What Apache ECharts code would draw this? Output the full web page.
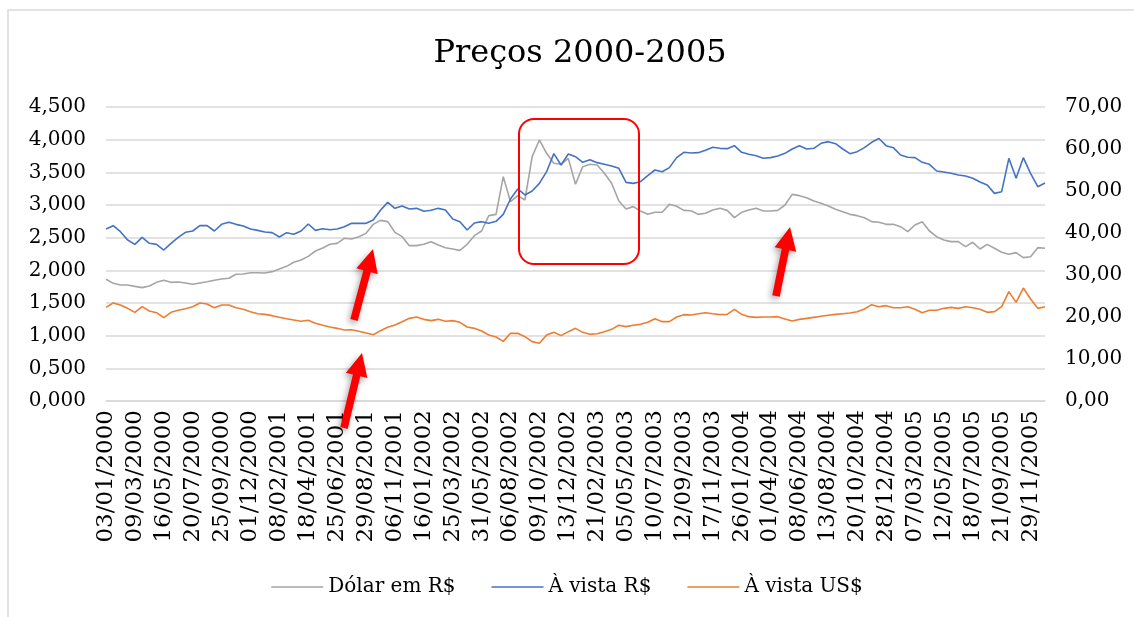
<!DOCTYPE html>
<html>
<head>
<meta charset="utf-8">
<title>Preços 2000-2005</title>
<script src="https://cdn.jsdelivr.net/npm/echarts@6/dist/echarts.min.js"></script>
<style>
    html, body { margin: 0; padding: 0; background: #fff; }
    #chart { width: 1134px; height: 617px; }
</style>
</head>
<body>
<div id="chart"></div>
<script>
// rótulos do eixo X (um a cada 4 pontos)
let dateLabels = ['03/01/2000', '09/03/2000', '16/05/2000', '20/07/2000', '25/09/2000', '01/12/2000',
    '08/02/2001', '18/04/2001', '25/06/2001', '29/08/2001', '06/11/2001', '16/01/2002', '25/03/2002',
    '31/05/2002', '06/08/2002', '09/10/2002', '13/12/2002', '21/02/2003', '05/05/2003', '10/07/2003',
    '12/09/2003', '17/11/2003', '26/01/2004', '01/04/2004', '08/06/2004', '13/08/2004', '20/10/2004',
    '28/12/2004', '07/03/2005', '12/05/2005', '18/07/2005', '21/09/2005', '29/11/2005'];
let step = 4;

// Dólar em R$ (eixo da esquerda)
let dolar = [
    1.863, 1.801, 1.776, 1.776, 1.755, 1.735, 1.760, 1.816, 1.847, 1.816,
    1.821, 1.806, 1.786, 1.806, 1.826, 1.847, 1.867, 1.878, 1.939, 1.944,
    1.964, 1.964, 1.959, 1.980, 2.020, 2.061, 2.123, 2.158, 2.214, 2.296,
    2.342, 2.398, 2.413, 2.490, 2.480, 2.515, 2.566, 2.704, 2.765, 2.745,
    2.582, 2.515, 2.378, 2.378, 2.398, 2.439, 2.388, 2.347, 2.327, 2.306,
    2.398, 2.531, 2.602, 2.837, 2.857, 3.434, 3.051, 3.143, 3.077, 3.740,
    3.995, 3.791, 3.638, 3.623, 3.714, 3.317, 3.587, 3.623, 3.612, 3.485,
    3.332, 3.061, 2.939, 2.975, 2.908, 2.857, 2.888, 2.888, 3.010, 2.980,
    2.918, 2.913, 2.857, 2.873, 2.924, 2.949, 2.918, 2.806, 2.888, 2.924,
    2.949, 2.908, 2.908, 2.918, 3.000, 3.163, 3.143, 3.112, 3.061, 3.026,
    2.985, 2.934, 2.898, 2.857, 2.837, 2.806, 2.745, 2.735, 2.704, 2.704,
    2.668, 2.592, 2.694, 2.745, 2.602, 2.515, 2.464, 2.439, 2.439, 2.362,
    2.429, 2.327, 2.398, 2.337, 2.276, 2.245, 2.271, 2.194, 2.209, 2.347,
    2.337
];

// À vista R$ (eixo da direita)
let vistaReal = [
    40.95, 41.75, 40.32, 38.33, 37.30, 38.97, 37.54, 37.30, 35.95, 37.54,
    38.97, 40.16, 40.48, 41.75, 41.75, 40.48, 42.06, 42.54, 42.06, 41.67,
    40.95, 40.63, 40.24, 40.08, 39.05, 40.08, 39.68, 40.48, 42.14, 40.63,
    41.03, 40.79, 40.95, 41.51, 42.30, 42.30, 42.30, 43.10, 45.40, 47.30,
    45.87, 46.43, 45.71, 45.87, 45.16, 45.40, 45.87, 45.48, 43.33, 42.70,
    40.71, 42.38, 42.70, 42.30, 42.78, 44.44, 48.10, 50.48, 49.05, 50.00,
    51.82, 54.60, 58.89, 56.19, 58.81, 58.17, 56.83, 57.46, 56.75, 56.35,
    55.95, 55.40, 52.06, 51.82, 52.22, 53.65, 55.00, 54.60, 55.56, 57.94,
    59.21, 59.05, 59.13, 59.68, 60.40, 60.16, 60.08, 60.79, 59.21, 58.73,
    58.41, 57.78, 57.94, 58.33, 58.97, 60.00, 60.79, 60.00, 60.16, 61.35,
    61.75, 61.27, 60.00, 58.89, 59.37, 60.32, 61.59, 62.50, 60.79, 60.32,
    58.57, 58.02, 57.94, 56.83, 56.35, 54.76, 54.52, 54.21, 53.81, 53.57,
    53.02, 52.14, 51.43, 49.44, 49.84, 57.78, 53.02, 57.94, 54.21, 51.03,
    51.90
];

// À vista US$ (eixo da direita)
let vistaDolar = [
    22.30, 23.33, 22.86, 22.06, 21.11, 22.46, 21.43, 21.03, 19.84, 21.11,
    21.59, 21.98, 22.46, 23.33, 23.10, 22.22, 22.86, 22.86, 22.22, 21.83,
    21.27, 20.79, 20.63, 20.32, 19.92, 19.60, 19.29, 18.97, 19.21, 18.49,
    18.02, 17.62, 17.30, 16.90, 16.98, 16.59, 16.19, 15.79, 16.75, 17.54,
    18.10, 18.89, 19.68, 20.00, 19.44, 19.13, 19.44, 18.97, 19.13, 18.73,
    17.62, 17.30, 16.67, 15.71, 15.24, 14.20, 16.11, 16.11, 15.32, 14.13,
    13.73, 15.71, 16.35, 15.56, 16.51, 17.30, 16.35, 15.87, 16.03, 16.51,
    17.06, 18.02, 17.70, 18.02, 18.25, 18.73, 19.60, 18.89, 18.89, 20.00,
    20.56, 20.48, 20.79, 21.03, 20.79, 20.56, 20.63, 21.83, 20.63, 20.08,
    19.92, 20.00, 20.00, 20.08, 19.52, 19.05, 19.44, 19.68, 19.92, 20.16,
    20.40, 20.63, 20.79, 20.95, 21.27, 21.90, 22.94, 22.46, 22.70, 22.22,
    22.22, 22.46, 21.83, 21.03, 21.59, 21.59, 22.06, 22.30, 22.06, 22.46,
    22.22, 21.83, 21.11, 21.27, 22.46, 26.03, 23.49, 26.90, 24.29, 22.06,
    22.46
];

// categorias: data no ponto rotulado, vazio nos intermediários
let categories = dolar.map((v, i) => (i % step === 0 ? dateLabels[i / step] : ''));

const fmt = (n, d) => n.toFixed(d).replace('.', ',');
const font = 'DejaVu Serif';

// seta vermelha (anotação)
const arrow = (tx, ty, px, py) => {
    let dx = px - tx, dy = py - ty;
    let len = Math.sqrt(dx * dx + dy * dy);
    let ux = dx / len, uy = dy / len;
    let nx = -uy, ny = ux;
    let headLen = 23, headW = 11, shaftW = 3.8;
    let bx = px - ux * headLen, by = py - uy * headLen;
    return {
        type: 'polygon',
        shape: {
            points: [
                [tx + nx * shaftW, ty + ny * shaftW],
                [bx + nx * shaftW, by + ny * shaftW],
                [bx + nx * headW, by + ny * headW],
                [px, py],
                [bx - nx * headW, by - ny * headW],
                [bx - nx * shaftW, by - ny * shaftW],
                [tx - nx * shaftW, ty - ny * shaftW]
            ]
        },
        style: {
            fill: '#FF0000',
            shadowBlur: 6,
            shadowOffsetX: -2,
            shadowOffsetY: 3,
            shadowColor: 'rgba(0,0,0,0.35)'
        },
        z: 100
    };
};

let mychart = echarts.init(document.getElementById('chart'));
let option = {
    animation: false,
    backgroundColor: '#fff',
    title: {
        text: 'Preços 2000-2005',
        left: 575,
        textAlign: 'center',
        top: 33,
        textStyle: { fontFamily: font, fontSize: 32, fontWeight: 'normal', color: '#000' }
    },
    legend: {
        top: 572,
        left: 'center',
        icon: 'rect',
        itemWidth: 52,
        itemHeight: 1.6,
        itemGap: 36,
        textStyle: { fontFamily: font, fontSize: 20, color: '#000' },
        data: ['Dólar em R$', 'À vista R$', 'À vista US$']
    },
    grid: { left: 106, right: 89, top: 107, bottom: 216 },
    xAxis: {
        type: 'category',
        boundaryGap: false,
        data: categories,
        axisLine: { lineStyle: { color: '#d9d9d9', width: 1.5 } },
        axisTick: { show: false },
        axisLabel: {
            interval: step - 1,
            rotate: 90,
            margin: 9,
            fontFamily: font,
            fontSize: 23,
            color: '#000'
        }
    },
    yAxis: [
        {
            type: 'value',
            min: 0,
            max: 4.5,
            interval: 0.5,
            axisLine: { show: false },
            axisTick: { show: false },
            splitLine: { lineStyle: { color: '#d9d9d9', width: 1.5 } },
            axisLabel: {
                margin: 20,
                fontFamily: font,
                fontSize: 20,
                color: '#000',
                formatter: (v) => fmt(v, 3)
            }
        },
        {
            type: 'value',
            min: 0,
            max: 70,
            interval: 10,
            axisLine: { show: false },
            axisTick: { show: false },
            splitLine: { show: false },
            axisLabel: {
                margin: 20,
                fontFamily: font,
                fontSize: 20,
                color: '#000',
                formatter: (v) => fmt(v, 2)
            }
        }
    ],
    series: [
        {
            name: 'Dólar em R$',
            type: 'line',
            yAxisIndex: 0,
            data: dolar,
            symbol: 'none',
            lineStyle: { color: '#A5A5A5', width: 1.6 },
            itemStyle: { color: '#A5A5A5' }
        },
        {
            name: 'À vista R$',
            type: 'line',
            yAxisIndex: 1,
            data: vistaReal,
            symbol: 'none',
            lineStyle: { color: '#4472C4', width: 1.6 },
            itemStyle: { color: '#4472C4' }
        },
        {
            name: 'À vista US$',
            type: 'line',
            yAxisIndex: 1,
            data: vistaDolar,
            symbol: 'none',
            lineStyle: { color: '#ED7D31', width: 1.6 },
            itemStyle: { color: '#ED7D31' }
        }
    ],
    graphic: [
        {
            type: 'rect',
            shape: { x: 8, y: 10, width: 1200, height: 700 },
            style: { fill: 'none', stroke: '#d9d9d9', lineWidth: 1.5 },
            z: -1
        },
        {
            type: 'rect',
            shape: { x: 519, y: 119, width: 120, height: 145, r: 15 },
            style: { fill: 'none', stroke: '#FF0000', lineWidth: 2 },
            z: 100
        },
        arrow(354, 320, 373, 249),
        arrow(344, 428, 362, 353),
        arrow(776, 296, 790, 227)
    ]
};
mychart.setOption(option);
</script>
</body>
</html>
